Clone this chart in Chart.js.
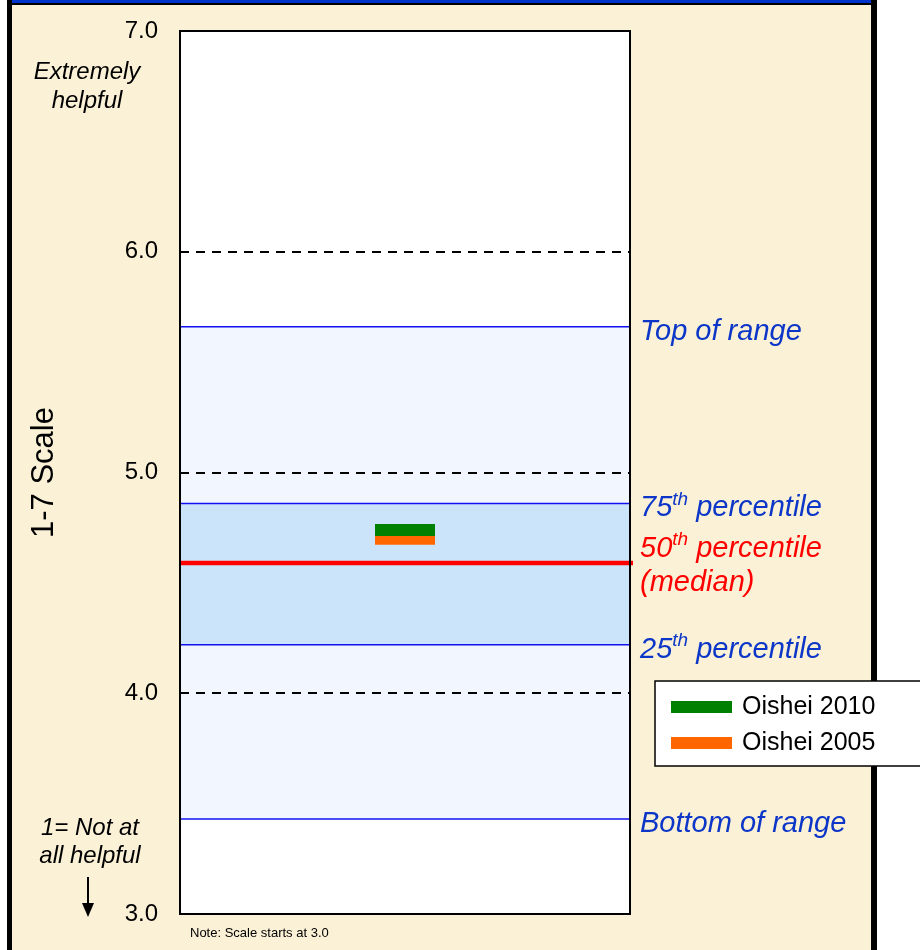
<!DOCTYPE html>
<html>
<head>
<meta charset="utf-8">
<script src="https://cdn.jsdelivr.net/npm/chart.js@4"></script>
<style>
  body { margin: 0; background: #fff; }
  #c { display: block; }
</style>
</head>
<body>
<canvas id="c" width="920" height="950"></canvas>
<script>
// data
const categories = ['']
const seriesNames = ['Oishei 2010', 'Oishei 2005']
const oishei2010 = [4.74]
const oishei2005 = [4.70]
const seriesColors = ['#008000', '#FF6600']
const yTicks = [3, 4, 5, 6, 7]
const rangeNames = ['Bottom of range', '25th percentile', '50th percentile', '75th percentile', 'Top of range']
const rangeValues = [3.43, 4.22, 4.59, 4.86, 5.66]

const FONT = "'Liberation Sans', Arial, sans-serif"
const BLUE_TXT = '#0c36c8'

// background, bands, guide lines and side texts
const decor = {
  id: 'decor',
  beforeDraw(chart) {
    const { ctx, chartArea: a, scales: { y } } = chart
    ctx.save()
    ctx.fillStyle = '#ffffff'
    ctx.fillRect(0, 0, chart.width, chart.height)
    ctx.fillStyle = '#FBF1D6'
    ctx.fillRect(10, 5, 864, chart.height - 5)
    ctx.fillStyle = '#0033CC'
    ctx.fillRect(7, 0, 870, 4)
    ctx.fillStyle = '#000'
    ctx.fillRect(7, 3, 870, 2)
    ctx.fillRect(7, 0, 5, chart.height)
    ctx.fillRect(871, 0, 6, chart.height)

    // plot background
    ctx.fillStyle = '#ffffff'
    ctx.fillRect(a.left, a.top, a.right - a.left, a.bottom - a.top)
    const yb = y.getPixelForValue(rangeValues[0])
    const yt = y.getPixelForValue(rangeValues[4])
    ctx.fillStyle = '#F1F6FF'
    ctx.fillRect(a.left, yt, a.right - a.left, yb - yt)
    const q1 = y.getPixelForValue(rangeValues[1])
    const q3 = y.getPixelForValue(rangeValues[3])
    ctx.fillStyle = '#CCE4FA'
    ctx.fillRect(a.left, q3, a.right - a.left, q1 - q3)
    ctx.restore()
  },
  beforeDatasetsDraw(chart) {
    const { ctx, chartArea: a, scales: { y } } = chart
    ctx.save()
    rangeValues.forEach((v, i) => {
      const py = y.getPixelForValue(v)
      ctx.beginPath()
      if (i === 2) {
        ctx.strokeStyle = '#FF0000'
        ctx.lineWidth = 4.5
        ctx.moveTo(a.left, py)
        ctx.lineTo(a.right + 3, py)
      } else {
        ctx.strokeStyle = '#1010F0'
        ctx.lineWidth = 1.5
        ctx.moveTo(a.left, py)
        ctx.lineTo(a.right, py)
      }
      ctx.stroke()
    })
    // frame
    ctx.strokeStyle = '#000'
    ctx.lineWidth = 2
    ctx.strokeRect(a.left, a.top, a.right - a.left, a.bottom - a.top)
    ctx.restore()
  },
  afterDraw(chart) {
    const { ctx, chartArea: a, scales: { y } } = chart
    ctx.save()
    ctx.textBaseline = 'middle'
    const x0 = a.right + 10

    function sup(txt, color, px, py) {
      // draws "25th percentile" style label with superscript
      const m = txt.match(/^(\d+)(th)(.*)$/)
      ctx.fillStyle = color
      ctx.textAlign = 'left'
      ctx.font = 'italic 29px ' + FONT
      if (!m) {
        ctx.fillText(txt, px, py)
        return
      }
      ctx.fillText(m[1], px, py)
      let w = ctx.measureText(m[1]).width
      ctx.font = 'italic 19px ' + FONT
      ctx.fillText(m[2], px + w, py - 9)
      w += ctx.measureText(m[2]).width
      ctx.font = 'italic 29px ' + FONT
      ctx.fillText(m[3], px + w, py)
    }

    rangeNames.forEach((name, i) => {
      const py = y.getPixelForValue(rangeValues[i])
      if (i === 2) {
        sup(name, '#FF0000', x0, py - 14)
        sup('(median)', '#FF0000', x0, py + 20)
      } else {
        sup(name, BLUE_TXT, x0, py + 5)
      }
    })

    // left side notes
    ctx.fillStyle = '#000'
    ctx.textAlign = 'center'
    ctx.font = 'italic 24px ' + FONT
    ctx.fillText('Extremely', 87, 72)
    ctx.fillText('helpful', 87, 101)
    ctx.fillText('1= Not at', 90, 828)
    ctx.fillText('all helpful', 90, 856)
    ctx.strokeStyle = '#000'
    ctx.lineWidth = 2
    ctx.beginPath()
    ctx.moveTo(88, 877)
    ctx.lineTo(88, 905)
    ctx.stroke()
    ctx.beginPath()
    ctx.moveTo(82, 903)
    ctx.lineTo(94, 903)
    ctx.lineTo(88, 917)
    ctx.closePath()
    ctx.fill()

    ctx.textAlign = 'left'
    ctx.font = '13px ' + FONT
    ctx.fillText('Note: Scale starts at 3.0', 190, 933)

    // legend
    ctx.fillStyle = '#fff'
    ctx.fillRect(655, 681, 270, 85)
    ctx.strokeStyle = '#000'
    ctx.lineWidth = 1.5
    ctx.strokeRect(655, 681, 270, 85)
    chart.data.datasets.forEach((ds, i) => {
      const ly = 707 + i * 36
      ctx.fillStyle = ds.borderColor
      ctx.fillRect(671, ly - 6, 61, 12)
      ctx.fillStyle = '#000'
      ctx.font = '25px ' + FONT
      ctx.fillText(ds.label, 742, ly)
    })
    ctx.restore()
  }
}

new Chart(document.getElementById('c'), {
  type: 'line',
  data: {
    labels: categories,
    datasets: [
      {
        label: seriesNames[0],
        data: oishei2010,
        showLine: false,
        borderColor: seriesColors[0],
        backgroundColor: seriesColors[0],
        pointStyle: 'line',
        pointRadius: 30,
        pointHoverRadius: 30,
        pointBorderWidth: 12
      },
      {
        label: seriesNames[1],
        data: oishei2005,
        showLine: false,
        borderColor: seriesColors[1],
        backgroundColor: seriesColors[1],
        pointStyle: 'line',
        pointRadius: 30,
        pointHoverRadius: 30,
        pointBorderWidth: 12
      }
    ]
  },
  options: {
    responsive: false,
    animation: false,
    events: [],
    layout: { autoPadding: false, padding: { left: 0, top: 31, right: 290, bottom: 36 } },
    plugins: {
      legend: { display: false },
      tooltip: { enabled: false }
    },
    scales: {
      x: { type: 'category', offset: true, display: false },
      y: {
        min: yTicks[0],
        max: yTicks[yTicks.length - 1],
        afterBuildTicks: s => { s.ticks = yTicks.map(v => ({ value: v })) },
        afterFit: s => {
          s.width = 180
          s.paddingTop = 0
          s.paddingBottom = 0
        },
        ticks: {
          color: '#000',
          padding: 22,
          font: { family: FONT, size: 24 },
          callback: v => Number(v).toFixed(1)
        },
        grid: { color: '#000', lineWidth: 2, drawTicks: false },
        border: { display: false, dash: [9, 7] },
        title: {
          display: true,
          text: '1-7 Scale',
          color: '#000',
          font: { family: FONT, size: 31 },
          padding: { top: 26, bottom: 0 }
        }
      }
    }
  },
  plugins: [decor]
})
</script>
</body>
</html>
